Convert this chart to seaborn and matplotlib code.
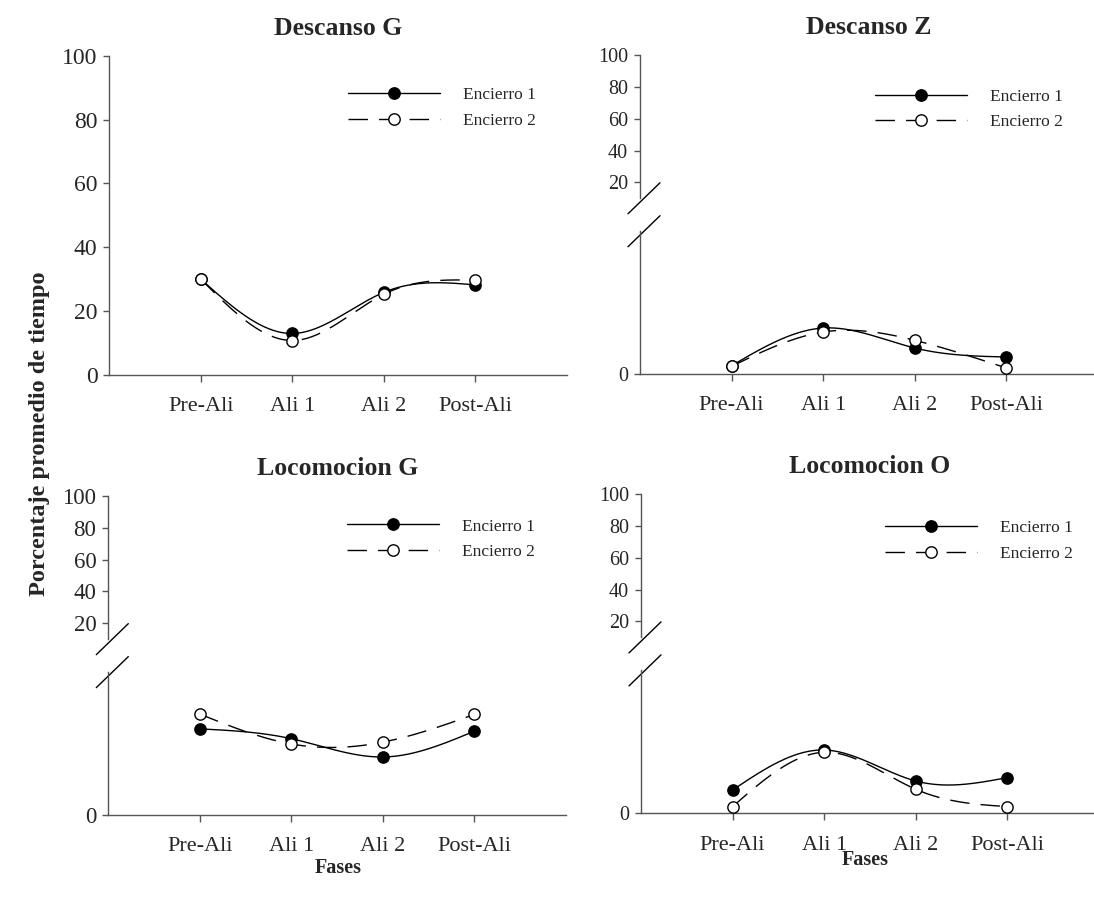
import numpy as np
import matplotlib
matplotlib.use('Agg')
import matplotlib.pyplot as plt
from matplotlib.lines import Line2D
import seaborn as sns

## datos (porcentaje promedio de tiempo)
fases = ['Pre-Ali', 'Ali 1', 'Ali 2', 'Post-Ali']
posiciones = [1, 2, 3, 4]

descanso_g_e1 = [30.0, 13.0, 25.9, 28.2]
descanso_g_e2 = [30.0, 10.8, 25.3, 29.7]

# paneles con eje cortado: tramo inferior 0-10
descanso_z_e1 = [0.58, 3.22, 1.82, 1.19]
descanso_z_e2 = [0.54, 2.94, 2.36, 0.42]

locomocion_g_e1 = [6.03, 5.34, 4.06, 5.87]
locomocion_g_e2 = [7.06, 4.97, 5.10, 7.04]

locomocion_o_e1 = [1.63, 4.43, 2.26, 2.50]
locomocion_o_e2 = [0.47, 4.27, 1.68, 0.47]

etiquetas = ['Encierro 1', 'Encierro 2']

W, H = 1094, 901
GRIS = '#555555'
DASH = (14, 8)

sns.set_theme(style='ticks')
plt.rcParams['font.family'] = ['Liberation Serif', 'DejaVu Serif']
plt.rcParams['axes.edgecolor'] = GRIS
plt.rcParams['axes.linewidth'] = 1.0

fig = plt.figure(figsize=(W / 100, H / 100), dpi=100)


def ejes_px(left, right, top, bottom):
    # crear ejes a partir de coordenadas en pixeles
    return fig.add_axes([left / W, 1 - bottom / H, (right - left) / W, (bottom - top) / H])


def spline_natural(y, n=60):
    # curva suave (spline cubico natural) entre los puntos, como en SigmaPlot
    y = np.asarray(y, dtype=float)
    m = len(y)
    A = np.zeros((m, m))
    rhs = np.zeros(m)
    A[0, 0] = A[-1, -1] = 1
    for i in range(1, m - 1):
        A[i, i - 1], A[i, i], A[i, i + 1] = 1, 4, 1
        rhs[i] = 6 * (y[i + 1] - 2 * y[i] + y[i - 1])
    M = np.linalg.solve(A, rhs)
    xs = np.linspace(1, m, n * (m - 1) + 1)
    idx = np.minimum(np.floor(xs - 1).astype(int), m - 2)
    t = xs - (idx + 1)
    ys = (M[idx] * (1 - t) ** 3 / 6 + M[idx + 1] * t ** 3 / 6
          + (y[idx] - M[idx] / 6) * (1 - t) + (y[idx + 1] - M[idx + 1] / 6) * t)
    return xs, ys


def dibujar_series(ax, e1, e2):
    xs, ys = spline_natural(e1)
    sns.lineplot(x=xs, y=ys, ax=ax, color='black', lw=1.0, sort=False, estimator=None, zorder=2)
    xs, ys = spline_natural(e2)
    sns.lineplot(x=xs, y=ys, ax=ax, color='black', lw=1.0, sort=False, estimator=None, zorder=2)
    ax.lines[-1].set_dashes(DASH)
    sns.scatterplot(x=posiciones, y=e1, ax=ax, color='black', edgecolor='black',
                    s=66, linewidth=1.0, zorder=3)
    sns.scatterplot(x=posiciones, y=e2, ax=ax, color='white', edgecolor='black',
                    s=66, linewidth=1.0, zorder=4)


def leyenda(ax, x_px, y_px):
    handles = [Line2D([], [], color='black', lw=1.0, marker='o', markersize=8.2,
                      markerfacecolor='black', markeredgecolor='black'),
               Line2D([], [], color='black', lw=1.0, linestyle=(0, DASH), marker='o',
                      markersize=8.2, markerfacecolor='white', markeredgecolor='black')]
    ax.legend(handles, etiquetas, loc='center left', bbox_to_anchor=(x_px / W, 1 - y_px / H),
              bbox_transform=fig.transFigure, frameon=False, fontsize=12.5,
              handlelength=5.3, handletextpad=1.35, labelspacing=0.55,
              borderpad=0, borderaxespad=0, numpoints=1)


def estilo_x(ax, size):
    ax.set_xlim(0, 5)
    ax.set_xticks(posiciones)
    ax.set_xticklabels(fases)
    ax.tick_params(axis='x', direction='out', length=5, width=1, color=GRIS,
                   labelsize=size, pad=11)
    ax.set_xlabel('')
    ax.set_ylabel('')
    sns.despine(ax=ax)


def marca_corte(ax, y_axes, w_px, h_px):
    # marca diagonal del eje cortado
    dx0, dx1 = -12 / w_px, 20 / w_px
    dy = 15.5 / h_px
    ax.plot([dx0, dx1], [y_axes - dy, y_axes + dy], transform=ax.transAxes,
            color='black', lw=1.0, clip_on=False)


def panel_completo(left, right, top, bottom, titulo, e1, e2, ley, ysize):
    ax = ejes_px(left, right, top, bottom)
    dibujar_series(ax, e1, e2)
    ax.set_ylim(0, 100)
    ax.set_yticks([0, 20, 40, 60, 80, 100])
    ax.tick_params(axis='y', direction='out', length=4.5, width=1, color=GRIS,
                   labelsize=ysize, pad=4)
    estilo_x(ax, 16)
    ax.set_title(titulo, fontsize=18.5, fontweight='bold', pad=15)
    leyenda(ax, *ley)
    return ax


def panel_cortado(left, right, top, bottom, titulo, e1, e2, ley, ysize):
    alto = bottom - top
    h_inf = alto * 143 / 319.5
    h_sup = alto * 143.5 / 319.5
    w = right - left
    # tramo superior 10-100
    ax_sup = ejes_px(left, right, top, top + h_sup)
    ax_sup.set_ylim(10, 100)
    ax_sup.set_xlim(0, 5)
    ax_sup.set_yticks([20, 40, 60, 80, 100])
    ax_sup.tick_params(axis='y', direction='out', length=4.5, width=1, color=GRIS,
                       labelsize=ysize, pad=4)
    ax_sup.set_xticks([])
    sns.despine(ax=ax_sup, bottom=True)
    ax_sup.patch.set_alpha(0)
    ax_sup.set_title(titulo, fontsize=18.5, fontweight='bold', pad=15)
    marca_corte(ax_sup, 0, w, h_sup)
    leyenda(ax_sup, *ley)
    # tramo inferior 0-10
    ax_inf = ejes_px(left, right, bottom - h_inf, bottom)
    dibujar_series(ax_inf, e1, e2)
    ax_inf.set_ylim(0, 10)
    ax_inf.set_yticks([0])
    ax_inf.tick_params(axis='y', direction='out', length=4.5, width=1, color=GRIS,
                       labelsize=ysize, pad=4)
    estilo_x(ax_inf, 16)
    ax_inf.patch.set_alpha(0)
    marca_corte(ax_inf, 1, w, h_inf)
    return ax_sup, ax_inf


panel_completo(109.3, 567, 55.7, 375, 'Descanso G', descanso_g_e1, descanso_g_e2, (348, 108), 17)
panel_cortado(640, 1098, 55, 374, 'Descanso Z', descanso_z_e1, descanso_z_e2, (875, 109.4), 14.5)
panel_cortado(108.3, 566, 495.8, 815, 'Locomocion G', locomocion_g_e1, locomocion_g_e2, (347, 539.3), 16.5)
panel_cortado(641, 1099, 494, 813.3, 'Locomocion O', locomocion_o_e1, locomocion_o_e2, (885, 541), 14.5)

fig.text(40 / W, 1 - 434 / H, 'Porcentaje promedio de tiempo', rotation=90, ha='center',
         va='center', fontsize=17.5, fontweight='bold')
fig.text(338 / W, 1 - 868 / H, 'Fases', ha='center', va='center', fontsize=14.5, fontweight='bold')
fig.text(865 / W, 1 - 860 / H, 'Fases', ha='center', va='center', fontsize=14.5, fontweight='bold')

plt.savefig('out.png', dpi=100)
